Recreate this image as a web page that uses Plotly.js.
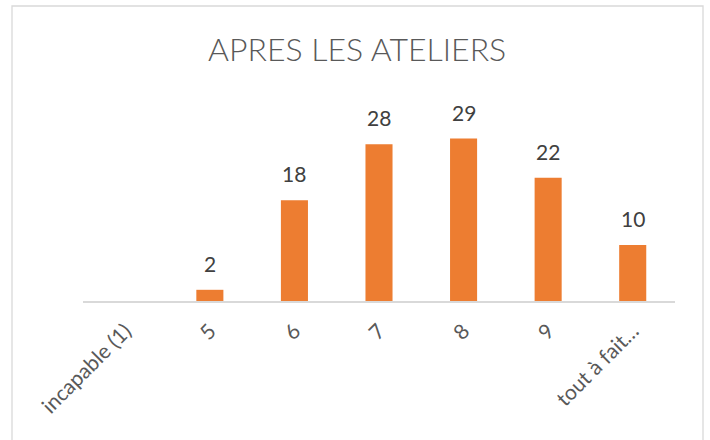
<!DOCTYPE html>
<html>
<head>
<meta charset="utf-8">
<script src="https://cdn.plot.ly/plotly-3.0.1.min.js"></script>
<style>html,body{margin:0;padding:0;background:#fff;}#chart{width:710px;height:440px;}</style>
</head>
<body>
<div id="chart"></div>
<script>
const categories = ["incapable (1)", "5", "6", "7", "8", "9", "tout à fait…"];
const values = [null, 2, 18, 28, 29, 22, 10];
const chartTitle = "APRES LES ATELIERS";

const FONT = "Lato, 'Open Sans', sans-serif";

const trace = {
  type: "bar",
  x: categories,
  y: values,
  marker: {color: "#ED7D31"},
  hoverinfo: "skip"
};

// category axes place annotations by category index
const annotations = categories.map((c, i) => values[i] === null ? null : ({
  x: i, y: values[i], xref: "x", yref: "y",
  text: String(values[i]), showarrow: false,
  yanchor: "bottom", yshift: 12,
  font: {family: FONT, size: 21, color: "#404040"}
})).filter(a => a !== null);

const layout = {
  width: 710, height: 440,
  paper_bgcolor: "#ffffff", plot_bgcolor: "#ffffff",
  margin: {l: 83, r: 35, t: 105, b: 139},
  bargap: 0.68,
  showlegend: false,
  title: {
    text: chartTitle,
    font: {family: FONT, size: 32, color: "#595959", weight: 300},
    x: 0.503, xanchor: "center", xref: "container",
    y: 1 - 50/440, yanchor: "middle", yref: "container"
  },
  xaxis: {
    type: "category",
    categoryorder: "array", categoryarray: categories,
    range: [-0.5, categories.length - 0.5],
    tickangle: -45,
    tickfont: {family: FONT, size: 21, color: "#595959"},
    showline: true, linecolor: "#d9d9d9", linewidth: 1.5,
    ticks: "", showgrid: false, zeroline: false,
    ticklabelstandoff: 8
  },
  yaxis: {
    range: [0, 35],
    visible: false, showgrid: false, zeroline: false
  },
  annotations: annotations,
  shapes: [{
    type: "rect", xref: "paper", yref: "paper",
    x0: (12 - 83) / 592, x1: (703 - 83) / 592,
    y0: -(460 - 301) / 196, y1: (301 - 6) / 196,
    line: {color: "#d9d9d9", width: 1.3}, fillcolor: "rgba(0,0,0,0)", layer: "below"
  }]
};

Plotly.newPlot("chart", [trace], layout, {displayModeBar: false, staticPlot: true});
</script>
</body>
</html>
